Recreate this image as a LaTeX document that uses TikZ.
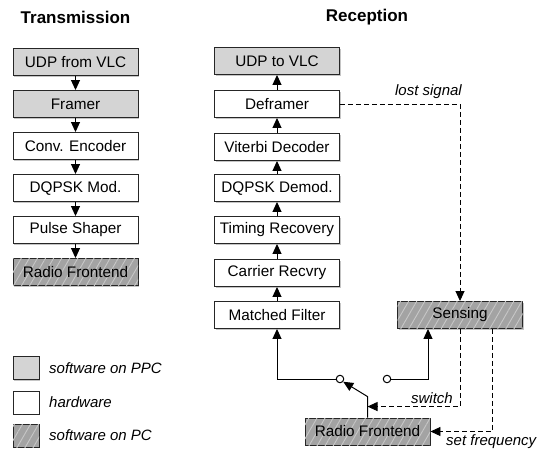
\documentclass[tikz,border=0pt]{standalone}
\usepackage{fontspec}
\setmainfont{Liberation Sans}
\usetikzlibrary{arrows.meta,shadows,patterns.meta}
\begin{document}
\begin{tikzpicture}[x=1pt,y=-1pt,
  box/.style={draw=black!85, line width=0.9pt, minimum width=125pt, minimum height=27pt, inner sep=0pt,
    font=\fontsize{15.3}{17}\selectfont,
    drop shadow={shadow xshift=1.3pt,shadow yshift=-1.3pt,opacity=0.45}},
  ppc/.style={box, fill=black!17},
  hw/.style={box, fill=white},
  pc/.style={box, fill=black!36, postaction={pattern={Lines[angle=60,distance=7pt,line width=0.9pt]}, pattern color=black!22}},
  leg/.style={minimum width=26pt, minimum height=23pt},
  legtxt/.style={anchor=west, inner sep=0pt, font=\itshape\fontsize{15}{17}\selectfont},
  title/.style={font=\bfseries\fontsize{17}{19}\selectfont},
  lbl/.style={inner sep=0pt, font=\itshape\fontsize{15}{17}\selectfont},
  arr/.style={line width=1pt, -{Triangle[length=10pt,width=9pt]}},
  dsh/.style={arr, line width=0.9pt, dash pattern=on 5pt off 3pt},
  sw/.style={circle, draw, line width=1pt, fill=white, inner sep=0pt, minimum size=7.5pt}]
\fill[white] (0,0) rectangle (554,449);
\useasboundingbox (0,0) rectangle (554,449);

\node[title] (ttx) at (75.5,17) {Transmission};
\node[title] (trx) at (367,17) {Reception};

% transmission
\node[ppc] (t1) at (75.5,62) {UDP from VLC};
\node[ppc] (t2) at (75.5,104) {Framer};
\node[hw]  (t3) at (75.5,146) {Conv. Encoder};
\node[hw]  (t4) at (75.5,188) {DQPSK Mod.};
\node[hw]  (t5) at (75.5,230) {Pulse Shaper};
\node[pc]  (t6) at (75.5,272) {Radio Frontend};
\foreach \a/\b in {t1/t2,t2/t3,t3/t4,t4/t5,t5/t6}
  \draw[arr] (\a.south) -- (\b.north);

% reception
\node[ppc] (r1) at (277,61) {UDP to VLC};
\node[hw]  (r2) at (277,104) {Deframer};
\node[hw]  (r3) at (277,147) {Viterbi Decoder};
\node[hw]  (r4) at (277,188) {DQPSK Demod.};
\node[hw]  (r5) at (277,230) {Timing Recovery};
\node[hw]  (r6) at (277,273) {Carrier Recvry};
\node[hw]  (r7) at (277,315) {Matched Filter};
\foreach \a/\b in {r2/r1,r3/r2,r4/r3,r5/r4,r6/r5,r7/r6}
  \draw[arr] (\a.north) -- (\b.south);

\node[pc] (sen) at (460,315) {Sensing};
\node[pc] (rf) at (367.5,431.5) {Radio Frontend};

% switch
\node[sw] (swl) at (340,379) {};
\node[sw] (swr) at (387,379) {};
\draw[arr] (swl.west) -| (r7.south);
\draw[arr] (swr.east) -| ([xshift=-32pt]sen.south);
\coordinate (lvtop) at ([yshift=21pt]rf.north);
\coordinate (lvmid) at ([yshift=11pt]rf.north);
\draw[arr] (rf.north) -- (lvtop) -- (swl.-40);

% dashed control lines
\draw[dsh] (r2.east) -| (sen.north);
\node[lbl, anchor=south east] (llost) at (462,99) {lost signal};
\draw[dsh] (sen.south) |- (lvmid);
\node[lbl, anchor=east] (lsw) at (453,398) {switch};
\draw[dsh] ([xshift=32pt]sen.south) |- (rf.east);
\node[lbl, anchor=west] (lsf) at (446,442) {set frequency};

% legend
\node[ppc, leg] (k1) at (26,368) {};
\node[hw, leg] (k2) at (26,402.5) {};
\node[pc, leg] (k3) at (26,435.5) {};
\node[legtxt] (k1t) at (49,368) {software on PPC};
\node[legtxt] (k2t) at (49,402.5) {hardware};
\node[legtxt] (k3t) at (49,435.5) {software on PC};
\end{tikzpicture}
\end{document}
